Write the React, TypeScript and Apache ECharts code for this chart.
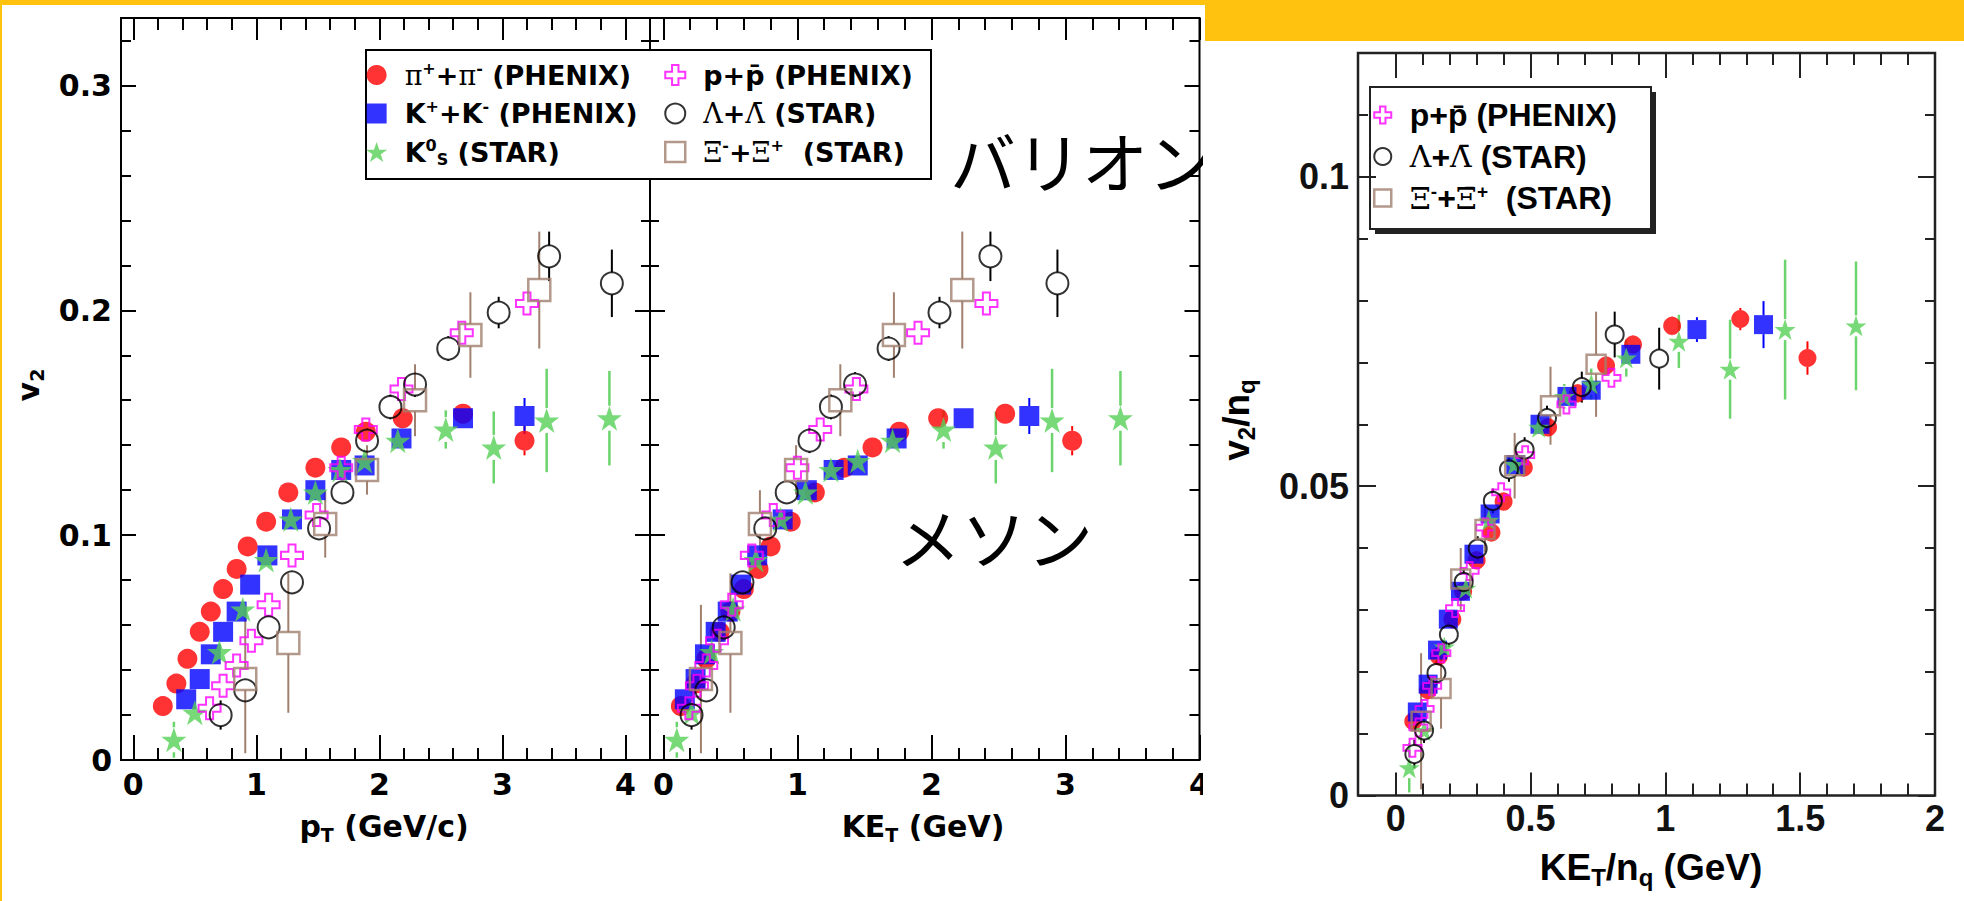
import React, { useEffect, useRef } from 'react';
import * as echarts from 'echarts';

// ---------------- DATA ----------------
// pi+ + pi- (PHENIX)
const piPt = [0.24, 0.35, 0.44, 0.54, 0.63, 0.73, 0.84, 0.93, 1.08, 1.26, 1.48, 1.69, 1.89, 2.19, 2.68, 3.18];
const piKet = [0.13, 0.24, 0.32, 0.42, 0.5, 0.6, 0.71, 0.8, 0.95, 1.13, 1.35, 1.56, 1.76, 2.05, 2.55, 3.05];
const piV2 = [0.024, 0.034, 0.045, 0.057, 0.066, 0.076, 0.085, 0.095, 0.106, 0.119, 0.13, 0.139, 0.146, 0.152, 0.154, 0.142];
const piErr = [0.003, 0.003, 0.003, 0.003, 0.003, 0.003, 0.003, 0.003, 0.003, 0.003, 0.003, 0.003, 0.003, 0.004, 0.004, 0.0065];
const piKetNq = [0.065, 0.12, 0.16, 0.21, 0.25, 0.3, 0.355, 0.4, 0.475, 0.565, 0.675, 0.78, 0.88, 1.025, 1.278, 1.527];
const piV2Nq = [0.012, 0.017, 0.0225, 0.0285, 0.033, 0.038, 0.0425, 0.0475, 0.053, 0.0595, 0.065, 0.0695, 0.0729, 0.0759, 0.077, 0.0707];
const piErrNq = [0.0015, 0.0015, 0.0015, 0.0015, 0.0015, 0.0015, 0.0015, 0.0015, 0.0015, 0.0015, 0.0015, 0.0015, 0.0015, 0.0015, 0.0018, 0.0027];

// K+ + K- (PHENIX)
const kPt = [0.43, 0.54, 0.63, 0.73, 0.84, 0.95, 1.09, 1.29, 1.48, 1.69, 1.88, 2.18, 2.68, 3.18];
const kKet = [0.16, 0.24, 0.31, 0.39, 0.48, 0.58, 0.7, 0.89, 1.07, 1.27, 1.45, 1.74, 2.24, 2.73];
const kV2 = [0.027, 0.036, 0.047, 0.057, 0.066, 0.078, 0.091, 0.107, 0.12, 0.129, 0.131, 0.143, 0.152, 0.153];
const kErr = [0.003, 0.003, 0.003, 0.003, 0.003, 0.003, 0.003, 0.003, 0.003, 0.003, 0.003, 0.003, 0.004, 0.008];
const kKetNq = [0.08, 0.12, 0.155, 0.195, 0.24, 0.29, 0.35, 0.445, 0.535, 0.635, 0.725, 0.872, 1.117, 1.364];
const kV2Nq = [0.0135, 0.018, 0.0235, 0.0285, 0.033, 0.039, 0.0455, 0.0535, 0.06, 0.0645, 0.0655, 0.0713, 0.0753, 0.0761];
const kErrNq = [0.0015, 0.0015, 0.0015, 0.0015, 0.0015, 0.0015, 0.0015, 0.0015, 0.0015, 0.0015, 0.0015, 0.0015, 0.002, 0.0038];

// K0s (STAR)
const k0Pt = [0.33, 0.5, 0.7, 0.89, 1.08, 1.28, 1.48, 1.68, 1.88, 2.15, 2.54, 2.93, 3.36, 3.87];
const k0Ket = [0.1, 0.21, 0.36, 0.52, 0.69, 0.875, 1.06, 1.25, 1.45, 1.71, 2.09, 2.48, 2.9, 3.41];
const k0V2 = [0.009, 0.021, 0.048, 0.067, 0.089, 0.107, 0.119, 0.129, 0.133, 0.142, 0.147, 0.139, 0.151, 0.152];
const k0Err = [0.008, 0.003, 0.003, 0.003, 0.003, 0.003, 0.003, 0.004, 0.005, 0.0055, 0.0085, 0.016, 0.023, 0.021];
const k0KetNq = [0.05, 0.105, 0.18, 0.26, 0.345, 0.44, 0.53, 0.625, 0.725, 0.855, 1.05, 1.24, 1.444, 1.707];
const k0V2Nq = [0.0045, 0.0105, 0.024, 0.0335, 0.0445, 0.0535, 0.0595, 0.0645, 0.0665, 0.0707, 0.0734, 0.0689, 0.0753, 0.0759];
const k0ErrNq = [0.004, 0.0015, 0.0015, 0.0015, 0.0015, 0.0015, 0.0015, 0.002, 0.0025, 0.003, 0.0043, 0.008, 0.0113, 0.0104];

// p + pbar (PHENIX)
const pPt = [0.62, 0.73, 0.84, 0.96, 1.1, 1.29, 1.49, 1.69, 1.89, 2.18, 2.67, 3.2];
const pKet = [0.19, 0.25, 0.32, 0.4, 0.51, 0.66, 0.82, 1.0, 1.17, 1.44, 1.9, 2.41];
const pV2 = [0.023, 0.033, 0.042, 0.053, 0.069, 0.091, 0.109, 0.13, 0.147, 0.165, 0.19, 0.203];
const pErr = [0.003, 0.003, 0.003, 0.003, 0.003, 0.003, 0.003, 0.003, 0.003, 0.003, 0.004, 0.004];
const pKetNq = [0.062, 0.084, 0.107, 0.135, 0.169, 0.22, 0.274, 0.332, 0.391, 0.48, 0.633, 0.8];
const pV2Nq = [0.0077, 0.011, 0.014, 0.0177, 0.023, 0.0303, 0.0363, 0.0433, 0.049, 0.055, 0.0632, 0.0675];
const pErrNq = [0.001, 0.001, 0.001, 0.001, 0.001, 0.001, 0.001, 0.001, 0.001, 0.001, 0.0012, 0.0012];

// Lambda + Lambdabar (STAR)
const lamPt = [0.71, 0.91, 1.1, 1.29, 1.51, 1.7, 1.9, 2.09, 2.29, 2.56, 2.97, 3.38, 3.89];
const lamKet = [0.21, 0.32, 0.45, 0.59, 0.76, 0.92, 1.09, 1.25, 1.43, 1.68, 2.06, 2.44, 2.94];
const lamV2 = [0.02, 0.031, 0.059, 0.079, 0.103, 0.119, 0.142, 0.157, 0.167, 0.183, 0.199, 0.224, 0.212];
const lamErr = [0.0065, 0.005, 0.005, 0.005, 0.005, 0.005, 0.0055, 0.0055, 0.0055, 0.0055, 0.007, 0.011, 0.015];
const lamKetNq = [0.069, 0.105, 0.151, 0.197, 0.252, 0.304, 0.36, 0.42, 0.478, 0.561, 0.69, 0.812, 0.977];
const lamV2Nq = [0.0067, 0.0105, 0.0198, 0.026, 0.0345, 0.0399, 0.0476, 0.0527, 0.0559, 0.061, 0.066, 0.0745, 0.0706];
const lamErrNq = [0.0023, 0.002, 0.002, 0.002, 0.002, 0.002, 0.002, 0.002, 0.002, 0.002, 0.0025, 0.0037, 0.005];

// Xi- + Xibar+ (STAR)
const xiPt = [0.91, 1.26, 1.56, 1.9, 2.29, 2.74, 3.3];
const xiKet = [0.28, 0.5, 0.72, 0.99, 1.32, 1.72, 2.23];
const xiV2 = [0.036, 0.052, 0.105, 0.129, 0.16, 0.189, 0.209];
const xiErr = [0.033, 0.031, 0.015, 0.011, 0.016, 0.019, 0.026];
const xiKetNq = [0.094, 0.168, 0.241, 0.331, 0.441, 0.574, 0.743];
const xiV2Nq = [0.012, 0.0173, 0.035, 0.043, 0.0533, 0.063, 0.0697];
const xiErrNq = [0.011, 0.0065, 0.005, 0.0037, 0.0053, 0.0063, 0.0085];

// ---------------- TICKS ----------------
const p12MajorX = [0, 1, 2, 3, 4];
const p12MinorX = [0.2, 0.4, 0.6, 0.8, 1.2, 1.4, 1.6, 1.8, 2.2, 2.4, 2.6, 2.8, 3.2, 3.4, 3.6, 3.8];
const p12MajorY = [0, 0.1, 0.2, 0.3];
const p12MinorY = [0.02, 0.04, 0.06, 0.08, 0.12, 0.14, 0.16, 0.18, 0.22, 0.24, 0.26, 0.28, 0.32];
const p3MajorX = [0, 0.5, 1, 1.5, 2];
const p3MinorX = [0.1, 0.2, 0.3, 0.4, 0.6, 0.7, 0.8, 0.9, 1.1, 1.2, 1.3, 1.4, 1.6, 1.7, 1.8, 1.9];
const p3MajorY = [0, 0.05, 0.1];
const p3MinorY = [0.01, 0.02, 0.03, 0.04, 0.06, 0.07, 0.08, 0.09, 0.11];

// ---------------- NAMES ----------------
const N_PI = 'π+ + π- (PHENIX)';
const N_K = 'K+ + K- (PHENIX)';
const N_K0 = 'K0S (STAR)';
const N_P = 'p + pbar (PHENIX)';
const N_LAM = 'Λ + Λbar (STAR)';
const N_XI = 'Ξ- + Ξbar+ (STAR)';

const legendRich: Record<string, string> = {
  [N_PI]: '{g|π}{sup|+}{b|+}{g|π}{sup|-}{b| (PHENIX)}',
  [N_K]: '{b|K}{sup|+}{b|+K}{sup|-}{b| (PHENIX)}',
  [N_K0]: '{b|K}{sup|0}{sub|S}{b| (STAR)}',
  [N_P]: '{b|p+p\u0304 (PHENIX)}',
  [N_LAM]: '{g|Λ}{b|+}{g|Λ\u0304}{b| (STAR)}',
  [N_XI]: '{g|Ξ}{sup|-}{b|+}{g|Ξ\u0304}{sup|+}{b|  (STAR)}',
};

const STAR = 'path://M50,2 L61.8,36.2 L97.6,36.2 L68.6,57.4 L79.6,91.6 L50,70.4 L20.4,91.6 L31.4,57.4 L2.4,36.2 L38.2,36.2 Z';
const CROSS = 'path://M34,0 L66,0 L66,34 L100,34 L100,66 L66,66 L66,100 L34,100 L34,66 L0,66 L0,34 L34,34 Z';
const SQUARE = 'path://M0,0 L100,0 L100,100 L0,100 Z';

const MK: Record<string, any> = {
  [N_PI]: { symbol: 'circle', icon: 'circle', itemStyle: { color: '#FF0000' }, err: '#FF0000', ew: 2 },
  [N_K]: { symbol: 'rect', icon: SQUARE, itemStyle: { color: '#0000FF' }, err: '#0000FF', ew: 2 },
  [N_K0]: { symbol: STAR, icon: STAR, itemStyle: { color: '#55CF55' }, err: '#6CD46C', ew: 2.5 },
  [N_P]: { symbol: CROSS, icon: CROSS, itemStyle: { color: 'rgba(0,0,0,0)', borderColor: '#FF00FF', borderWidth: 2 }, err: '#FF00FF', ew: 2 },
  [N_LAM]: { symbol: 'circle', icon: 'circle', itemStyle: { color: 'rgba(0,0,0,0)', borderColor: '#000000', borderWidth: 2 }, err: '#000000', ew: 2 },
  [N_XI]: { symbol: 'rect', icon: SQUARE, itemStyle: { color: 'rgba(0,0,0,0)', borderColor: '#A0806E', borderWidth: 2.5 }, err: '#A0806E', ew: 2 },
};

const fmt = (v: number) => String(parseFloat(v.toFixed(3)));

function mkAxis(grid: number, pos: string, min: number, max: number, ticks: number[], len: number, label: any, color: string, z: number) {
  return {
    type: 'value', gridIndex: grid, position: pos, min, max, z,
    axisLine: { show: false, onZero: false },
    splitLine: { show: false },
    minorTick: { show: false },
    minorSplitLine: { show: false },
    axisTick: { show: true, inside: true, length: len, customValues: ticks, lineStyle: { color, width: 2 } },
    axisLabel: label ? { show: true, customValues: ticks, formatter: fmt, ...label } : { show: false },
    axisPointer: { show: false },
  };
}

function buildOption() {
  const xAxes: any[] = [];
  const yAxes: any[] = [];
  const series: any[] = [];

  const lab12 = { fontFamily: 'DejaVu Sans', fontWeight: 'bold', fontSize: 30, color: '#000', margin: 9 };
  const lab3 = { fontFamily: 'Liberation Sans', fontWeight: 'bold', fontSize: 36, color: '#111', margin: 5 };

  const panels = [
    { grid: 0, xmin: -0.1, xmax: 4.2, ymax: 0.33, majX: p12MajorX, minX: p12MinorX, majY: p12MajorY, minY: p12MinorY,
      len: [25, 12, 22, 12, 15, 10, 15, 9], xl: lab12, yl: lab12, color: '#000', z: 0 },
    { grid: 1, xmin: -0.1, xmax: 4.0, ymax: 0.33, majX: p12MajorX, minX: p12MinorX, majY: p12MajorY, minY: p12MinorY,
      len: [25, 12, 22, 12, 15, 9, 15, 10], xl: lab12, yl: null, color: '#000', z: 0 },
    { grid: 2, xmin: -0.14, xmax: 2.0, ymax: 0.12, majX: p3MajorX, minX: p3MinorX, majY: p3MajorY, minY: p3MinorY,
      len: [23, 12, 25, 12, 18, 10, 17, 10], xl: lab3, yl: { ...lab3, margin: 9 }, color: '#222', z: 60 },
  ];
  const idx: { xi: number; yi: number }[] = [];
  panels.forEach((p) => {
    const xi = xAxes.length;
    const yi = yAxes.length;
    xAxes.push(mkAxis(p.grid, 'bottom', p.xmin, p.xmax, p.majX, p.len[0], p.xl, p.color, p.z));
    xAxes.push(mkAxis(p.grid, 'bottom', p.xmin, p.xmax, p.minX, p.len[1], null, p.color, p.z));
    xAxes.push(mkAxis(p.grid, 'top', p.xmin, p.xmax, p.majX, p.len[2], null, p.color, p.z));
    xAxes.push(mkAxis(p.grid, 'top', p.xmin, p.xmax, p.minX, p.len[3], null, p.color, p.z));
    yAxes.push(mkAxis(p.grid, 'left', 0, p.ymax, p.majY, p.len[4], p.yl, p.color, p.z));
    yAxes.push(mkAxis(p.grid, 'left', 0, p.ymax, p.minY, p.len[5], null, p.color, p.z));
    yAxes.push(mkAxis(p.grid, 'right', 0, p.ymax, p.majY, p.len[6], null, p.color, p.z));
    yAxes.push(mkAxis(p.grid, 'right', 0, p.ymax, p.minY, p.len[7], null, p.color, p.z));
    idx.push({ xi, yi });
  });

  const errSeries = (xs: number[], ys: number[], es: number[], pi: number, name: string, gap: number, z: number) => {
    const m = MK[name];
    return {
      type: 'custom', xAxisIndex: idx[pi].xi, yAxisIndex: idx[pi].yi, z, silent: true,
      data: xs.map((x, i) => [x, ys[i], es[i]]),
      encode: { x: 0, y: 1 },
      renderItem: (_params: any, api: any) => {
        const x = api.value(0);
        const y = api.value(1);
        const e = api.value(2);
        const c = api.coord([x, y]);
        const hi = api.coord([x, y + e]);
        const lo = api.coord([x, y - e]);
        const children: any[] = [];
        if (c[1] - gap > hi[1]) {
          children.push({ type: 'line', shape: { x1: c[0], y1: hi[1], x2: c[0], y2: c[1] - gap }, style: { stroke: m.err, lineWidth: m.ew } });
        }
        if (lo[1] > c[1] + gap) {
          children.push({ type: 'line', shape: { x1: c[0], y1: c[1] + gap, x2: c[0], y2: lo[1] }, style: { stroke: m.err, lineWidth: m.ew } });
        }
        return { type: 'group', children };
      },
    };
  };
  const scat = (xs: number[], ys: number[], pi: number, name: string, size: number, z: number, extra: any = {}) => {
    const m = MK[name];
    return {
      type: 'scatter', name, xAxisIndex: idx[pi].xi, yAxisIndex: idx[pi].yi, z, silent: true,
      symbol: m.symbol, symbolSize: size, itemStyle: m.itemStyle,
      emphasis: { disabled: true },
      data: xs.map((x, i) => [x, ys[i]]),
      ...extra,
    };
  };

  const sets = [
    { name: N_PI, x: [piPt, piKet, piKetNq], y: [piV2, piV2, piV2Nq], e: [piErr, piErr, piErrNq], s: [20, 20, 18] },
    { name: N_K, x: [kPt, kKet, kKetNq], y: [kV2, kV2, kV2Nq], e: [kErr, kErr, kErrNq], s: [20, 20, 19] },
    { name: N_K0, x: [k0Pt, k0Ket, k0KetNq], y: [k0V2, k0V2, k0V2Nq], e: [k0Err, k0Err, k0ErrNq], s: [25, 25, 21] },
    { name: N_P, x: [pPt, pKet, pKetNq], y: [pV2, pV2, pV2Nq], e: [pErr, pErr, pErrNq], s: [22, 22, 18] },
    { name: N_LAM, x: [lamPt, lamKet, lamKetNq], y: [lamV2, lamV2, lamV2Nq], e: [lamErr, lamErr, lamErrNq], s: [22, 22, 18] },
    { name: N_XI, x: [xiPt, xiKet, xiKetNq], y: [xiV2, xiV2, xiV2Nq], e: [xiErr, xiErr, xiErrNq], s: [22, 22, 19] },
  ];
  [0, 1, 2].forEach((pi) => {
    const z = pi === 2 ? 60 : 2;
    sets.forEach((d, k) => {
      series.push(errSeries(d.x[pi], d.y[pi], d.e[pi], pi, d.name, d.s[pi] / 2, z));
      const extra = pi === 2 && k === 0 ? {
        markLine: { silent: true, symbol: ['none', 'none'], label: { show: false },
          lineStyle: { color: '#8a8a8a', width: 1, type: 'solid' }, data: [{ xAxis: -0.095 }] },
      } : {};
      series.push(scat(d.x[pi], d.y[pi], pi, d.name, d.s[pi], z, extra));
    });
  });

  const rich12 = {
    b: { fontFamily: 'DejaVu Sans', fontWeight: 'bold', fontSize: 27, lineHeight: 30, color: '#000' },
    g: { fontFamily: 'DejaVu Serif', fontWeight: 'normal', fontSize: 27, lineHeight: 30, color: '#000' },
    sup: { fontFamily: 'DejaVu Sans', fontWeight: 'bold', fontSize: 16, lineHeight: 13, verticalAlign: 'top', color: '#000' },
    sub: { fontFamily: 'DejaVu Sans', fontWeight: 'bold', fontSize: 16, lineHeight: 13, verticalAlign: 'bottom', color: '#000' },
  };
  const rich3 = {
    b: { fontFamily: 'Liberation Sans', fontWeight: 'bold', fontSize: 32, lineHeight: 32, color: '#000' },
    g: { fontFamily: 'DejaVu Serif', fontWeight: 'normal', fontSize: 30, lineHeight: 32, color: '#000' },
    sup: { fontFamily: 'Liberation Sans', fontWeight: 'bold', fontSize: 19, lineHeight: 14, verticalAlign: 'top', color: '#000' },
    sub: { fontFamily: 'Liberation Sans', fontWeight: 'bold', fontSize: 19, lineHeight: 14, verticalAlign: 'bottom', color: '#000' },
  };
  const legItem = (name: string) => ({ name, icon: MK[name].icon, itemStyle: { ...MK[name].itemStyle } });
  const mkLegend = (names: string[], left: number, top: number, iw: number, ih: number, gap: number, rich: any, lh: number, z: number) => ({
    show: true, orient: 'vertical', left, top, padding: 0, itemGap: gap, itemWidth: iw, itemHeight: ih,
    selectedMode: false, z, symbolKeepAspect: true,
    data: names.map(legItem),
    formatter: (n: string) => legendRich[n] || n,
    textStyle: { fontFamily: 'DejaVu Sans', fontWeight: 'bold', fontSize: 27, lineHeight: lh, color: '#000', rich },
  });

  const t12 = {
    b: { fontFamily: 'DejaVu Sans', fontWeight: 'bold', fontSize: 30, lineHeight: 36, fill: '#000', color: '#000' },
    s: { fontFamily: 'DejaVu Sans', fontWeight: 'bold', fontSize: 19, lineHeight: 22, verticalAlign: 'bottom', fill: '#000', color: '#000' },
  };
  const t3 = {
    b: { fontFamily: 'Liberation Sans', fontWeight: 'bold', fontSize: 37, lineHeight: 44, fill: '#000', color: '#000' },
    s: { fontFamily: 'Liberation Sans', fontWeight: 'bold', fontSize: 24, lineHeight: 26, verticalAlign: 'bottom', fill: '#000', color: '#000' },
  };
  const txt = (text: string, x: number, y: number, rich: any, z: number, rotation = 0) => ({
    type: 'text', x, y, rotation, z, silent: true,
    style: { text, rich, fill: '#000', font: 'bold 30px "DejaVu Sans"', align: 'center', verticalAlign: 'middle', textAlign: 'center', textVerticalAlign: 'middle' },
  });

  return {
    animation: false,
    backgroundColor: '#FFC20F',
    textStyle: { fontFamily: 'DejaVu Sans' },
    grid: [
      { left: 121, top: 18, width: 529, height: 742, show: true, borderColor: '#000', borderWidth: 2, backgroundColor: 'rgba(0,0,0,0)' },
      { left: 650, top: 18, width: 549.5, height: 742, show: true, borderColor: '#000', borderWidth: 2, backgroundColor: 'rgba(0,0,0,0)' },
      { left: 1358, top: 53, width: 577, height: 742.5, show: true, borderColor: '#222', borderWidth: 2.5, backgroundColor: 'rgba(0,0,0,0)', z: 60 },
    ],
    xAxis: xAxes,
    yAxis: yAxes,
    legend: [
      mkLegend([N_PI, N_K, N_K0], 366, 60, 46, 20, 8.5, rich12, 30, 6),
      mkLegend([N_P, N_LAM, N_XI], 664, 60, 46, 20, 8.5, rich12, 30, 6),
      mkLegend([N_P, N_LAM, N_XI], 1373, 99, 44, 17, 9.5, rich3, 32, 62),
    ],
    graphic: {
      elements: [
        { type: 'rect', z: -5, silent: true, shape: { x: 2, y: 5, width: 1203, height: 896 }, style: { fill: '#FFFFFF' } },
        { type: 'rect', z: 3, silent: true, shape: { x: 366, y: 50, width: 565, height: 129 }, style: { fill: '#FFFFFF', stroke: '#000', lineWidth: 2 } },
        { type: 'text', z: 1, silent: true, x: 950, y: 159, style: { text: 'バリオン', font: 'normal 66px "Noto Sans CJK JP"', fill: '#000', align: 'left', verticalAlign: 'middle', textAlign: 'left', textVerticalAlign: 'middle' } },
        { type: 'text', z: 1, silent: true, x: 895, y: 535, style: { text: 'メソン', font: 'normal 66px "Noto Sans CJK JP"', fill: '#000', align: 'left', verticalAlign: 'middle', textAlign: 'left', textVerticalAlign: 'middle' } },
        txt('{b|p}{s|T}{b| (GeV/c)}', 384, 826, t12, 1),
        txt('{b|KE}{s|T}{b| (GeV)}', 923, 826, t12, 1),
        txt('{b|v}{s|2}', 28, 385, t12, 1, Math.PI / 2),
        { type: 'rect', z: 50, silent: true, shape: { x: 1203, y: 41, width: 761, height: 860 }, style: { fill: '#FFFFFF' } },
        { type: 'rect', z: 55, silent: true, shape: { x: 1375, y: 92, width: 281, height: 142 }, style: { fill: '#222' } },
        { type: 'rect', z: 56, silent: true, shape: { x: 1370, y: 87, width: 281, height: 142 }, style: { fill: '#FFFFFF', stroke: '#222', lineWidth: 2 } },
        txt('{b|KE}{s|T}{b|/n}{s|q}{b| (GeV)}', 1651, 867, t3, 60),
        txt('{b|v}{s|2}{b|/n}{s|q}', 1236, 420, t3, 60, Math.PI / 2),
      ],
    },
    series,
  };
}

export default function App() {
  const ref = useRef<HTMLDivElement>(null);
  useEffect(() => {
    if (!ref.current) return;
    const chart = echarts.init(ref.current, null, { renderer: 'svg' });
    chart.setOption(buildOption() as any);
    return () => chart.dispose();
  }, []);
  return <div ref={ref} style={{ position: 'absolute', left: 0, top: 0, width: 1964, height: 901 }} />;
}
